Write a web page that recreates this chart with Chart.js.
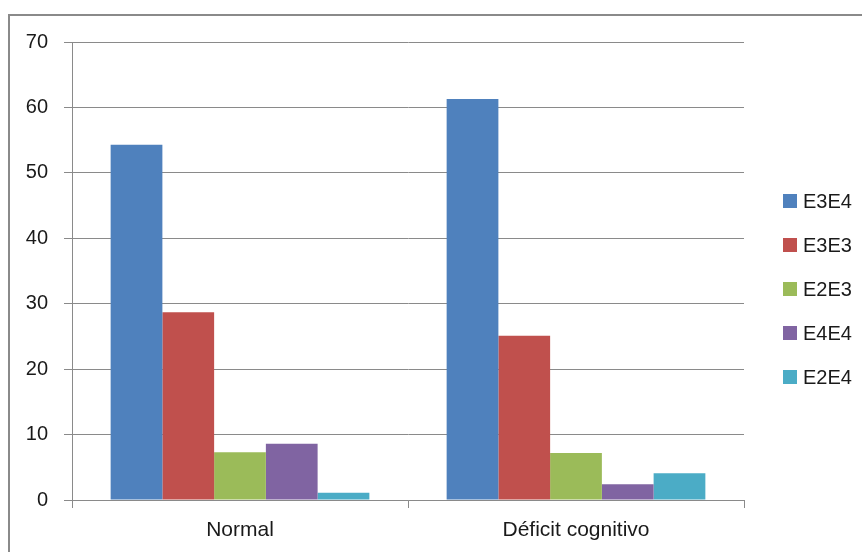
<!DOCTYPE html>
<html>
<head>
<meta charset="utf-8">
<script src="https://cdn.jsdelivr.net/npm/chart.js@4.4.1/dist/chart.umd.min.js"></script>
<style>
    body { margin: 0; background: #fff; }
    #wrap { width: 862px; height: 552px; }
</style>
</head>
<body>
<div id="wrap"><canvas id="chartContainer" width="862" height="552"></canvas></div>
<script>
const categories = ['Normal', 'Déficit cognitivo'];
const seriesNames = ['E3E4', 'E3E3', 'E2E3', 'E4E4', 'E2E4'];
const e3e4 = [54.3, 61.3];
const e3e3 = [28.7, 25.1];
const e2e3 = [7.3, 7.2];
const e4e4 = [8.6, 2.4];
const e2e4 = [1.1, 4.1];
const yTicks = [0, 10, 20, 30, 40, 50, 60, 70];

const seriesColors = ['#4f81bd', '#c0504d', '#9bbb59', '#8064a2', '#4bacc6'];
const fontFamily = '"Liberation Sans", Arial, sans-serif';

// outer frame like the office chart border
const framePlugin = {
    id: 'frame',
    beforeDraw(chart) {
        const ctx = chart.ctx;
        ctx.save();
        ctx.fillStyle = '#ffffff';
        ctx.fillRect(0, 0, chart.width, chart.height);
        ctx.strokeStyle = '#8a8a8a';
        ctx.lineWidth = 2;
        ctx.strokeRect(9, 15, chart.width + 20, chart.height + 20);
        ctx.restore();
    }
};

// legend drawn on the right, one row per dataset
const legendPlugin = {
    id: 'sideLegend',
    afterDraw(chart) {
        const ctx = chart.ctx;
        ctx.save();
        ctx.font = '20px ' + fontFamily;
        ctx.textBaseline = 'middle';
        chart.data.datasets.forEach((ds, i) => {
            const y = 201 + i * 44;
            ctx.fillStyle = ds.backgroundColor;
            ctx.fillRect(783, y - 7, 14, 14);
            ctx.fillStyle = '#1a1a1a';
            ctx.fillText(ds.label, 803, y + 1);
        });
        ctx.restore();
    }
};

const valueLists = [e3e4, e3e3, e2e3, e4e4, e2e4];

new Chart(document.getElementById('chartContainer'), {
    type: 'bar',
    data: {
        labels: categories,
        datasets: seriesNames.map((name, i) => ({
            label: name,
            data: valueLists[i],
            backgroundColor: seriesColors[i],
            borderWidth: 0,
            barPercentage: 1,
            categoryPercentage: 0.77
        }))
    },
    options: {
        responsive: false,
        animation: false,
        layout: {
            padding: { left: 0, top: 42, right: 118, bottom: 0 }
        },
        plugins: {
            legend: { display: false },
            tooltip: { enabled: false }
        },
        scales: {
            x: {
                grid: {
                    offset: true,
                    drawOnChartArea: false,
                    drawTicks: true,
                    tickLength: 8,
                    color: '#8a8a8a'
                },
                border: { display: true, color: '#8a8a8a' },
                ticks: {
                    color: '#1a1a1a',
                    font: { family: fontFamily, size: 21 },
                    padding: 10,
                    maxRotation: 0
                },
                afterFit(scale) { scale.height = 52; }
            },
            y: {
                min: 0,
                max: 70,
                afterBuildTicks(scale) {
                    scale.ticks = yTicks.map(v => ({ value: v }));
                },
                grid: {
                    color: '#8a8a8a',
                    drawTicks: true,
                    tickLength: 8
                },
                border: { display: true, color: '#8a8a8a' },
                ticks: {
                    color: '#1a1a1a',
                    font: { family: fontFamily, size: 20 },
                    padding: 16
                },
                afterFit(scale) { scale.width = 72; }
            }
        }
    },
    plugins: [framePlugin, legendPlugin]
});
</script>
</body>
</html>
